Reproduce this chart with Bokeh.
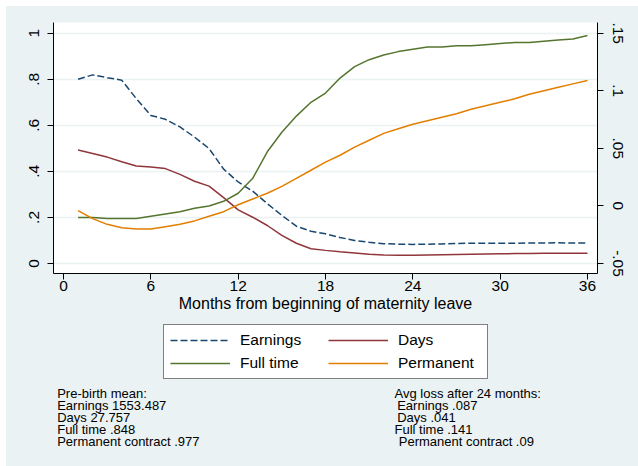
from bokeh.plotting import figure
from bokeh.layouts import column
from bokeh.models import Range1d, LinearAxis, FixedTicker, Legend, LegendItem, Label
from bokeh.embed import file_html
from bokeh.resources import INLINE

# ---------------- data ----------------
months = list(range(1, 37))
earnings = [0.800, 0.819, 0.807, 0.796, 0.716, 0.643, 0.626, 0.593, 0.549, 0.499,
            0.410, 0.354, 0.314, 0.260, 0.209, 0.162, 0.140, 0.129, 0.113, 0.100,
            0.092, 0.086, 0.084, 0.083, 0.084, 0.085, 0.087, 0.088, 0.088, 0.088,
            0.088, 0.089, 0.089, 0.090, 0.089, 0.089]
days = [0.493, 0.478, 0.462, 0.442, 0.423, 0.419, 0.412, 0.387, 0.357, 0.336,
        0.286, 0.233, 0.201, 0.165, 0.122, 0.088, 0.064, 0.057, 0.051, 0.046,
        0.040, 0.037, 0.036, 0.036, 0.037, 0.038, 0.039, 0.040, 0.041, 0.042,
        0.043, 0.043, 0.044, 0.044, 0.045, 0.045]
# right-axis series
full_time = [-0.010, -0.010, -0.011, -0.011, -0.011, -0.009, -0.007, -0.005, -0.002, 0.000,
             0.004, 0.011, 0.024, 0.047, 0.064, 0.078, 0.090, 0.098, 0.111, 0.121,
             0.127, 0.131, 0.134, 0.136, 0.138, 0.138, 0.139, 0.139, 0.140, 0.141,
             0.142, 0.142, 0.143, 0.144, 0.145, 0.148]
permanent = [-0.004, -0.011, -0.016, -0.019, -0.020, -0.020, -0.018, -0.016, -0.013, -0.009,
             -0.005, 0.001, 0.006, 0.011, 0.017, 0.024, 0.031, 0.038, 0.044, 0.051,
             0.057, 0.063, 0.067, 0.071, 0.074, 0.077, 0.080, 0.084, 0.087, 0.090,
             0.093, 0.097, 0.100, 0.103, 0.106, 0.109]

x_ticks = [0, 6, 12, 18, 24, 30, 36]
left_ticks = [0, 0.2, 0.4, 0.6, 0.8, 1]
left_tick_labels = ["0", ".2", ".4", ".6", ".8", "1"]
right_ticks = [-0.05, 0, 0.05, 0.1, 0.15]
right_tick_labels = ["-.05", "0", ".05", ".1", ".15"]
legend_labels = ["Earnings", "Days", "Full time", "Permanent"]
x_title = "Months from beginning of maternity leave"
note_left = ["Pre-birth mean:", "Earnings 1553.487", "Days 27.757",
             "Full time .848", "Permanent contract .977"]
note_right = ["Avg loss after 24 months:", "Earnings .087", "Days .041",
              "Full time .141", "Permanent contract .09"]

# ---------------- style ----------------
FONT = "Liberation Sans"
BG = "#EAF2F3"
C_NAVY = "#1A476F"
C_MAROON = "#90353B"
C_GREEN = "#55752F"
C_ORANGE = "#E37E00"
colors = [C_NAVY, C_MAROON, C_GREEN, C_ORANGE]
dashes = ["7 3", "solid", "solid", "solid"]
series = [earnings, days, full_time, permanent]

W = 632
H1 = 316
H2 = 144

p = figure(width=W, height=H1, output_backend="svg", toolbar_location=None,
           x_range=Range1d(-0.688, 36.688), y_range=Range1d(-0.0434, 1.0464),
           min_border_left=47, min_border_right=41, min_border_top=16,
           min_border_bottom=49)
p.extra_y_ranges = {"right": Range1d(-0.05 + 0.2 * -0.0434, -0.05 + 0.2 * 1.0464)}

p.border_fill_color = BG
p.background_fill_color = "white"
p.outline_line_color = None

p.xgrid.visible = False
p.ygrid.ticker = FixedTicker(ticks=left_ticks)
p.ygrid.grid_line_color = BG
p.ygrid.grid_line_width = 1.3


def style_axis(ax):
    ax.axis_line_color = "black"
    ax.axis_line_width = 1
    ax.major_tick_line_color = "black"
    ax.major_tick_in = 0
    ax.major_tick_out = 6
    ax.minor_tick_line_color = None
    ax.major_label_text_font = FONT
    ax.major_label_text_font_size = "15.5px"
    ax.major_label_text_color = "black"


xa = p.xaxis[0]
style_axis(xa)
xa.ticker = FixedTicker(ticks=x_ticks)
xa.major_label_standoff = 1
xa.axis_label = x_title
xa.axis_label_text_font = FONT
xa.axis_label_text_font_size = "16px"
xa.axis_label_text_font_style = "normal"
xa.axis_label_text_color = "black"
xa.axis_label_standoff = 1

ya = p.yaxis[0]
style_axis(ya)
ya.ticker = FixedTicker(ticks=left_ticks)
ya.major_label_overrides = {t: s for t, s in zip(left_ticks, left_tick_labels)}
ya.major_label_orientation = "vertical"
ya.major_label_standoff = 8

ra = LinearAxis(y_range_name="right")
style_axis(ra)
ra.ticker = FixedTicker(ticks=right_ticks)
ra.major_label_overrides = {t: s for t, s in zip(right_ticks, right_tick_labels)}
ra.major_label_orientation = "vertical"
ra.major_label_standoff = 9
p.add_layout(ra, "right")

p.line(months, earnings, line_color=C_NAVY, line_width=1.5, line_dash="7 3")
p.line(months, days, line_color=C_MAROON, line_width=1.5)
p.line(months, full_time, line_color=C_GREEN, line_width=1.5, y_range_name="right")
p.line(months, permanent, line_color=C_ORANGE, line_width=1.5, y_range_name="right")

# ---------------- lower panel: legend + notes ----------------
# frame of this panel is aligned with the main frame (image x 53..597),
# so its data units are image pixels; y runs downward from the panel top.
p2 = figure(width=W, height=H2, output_backend="svg", toolbar_location=None,
            x_range=Range1d(53, 597), y_range=Range1d(H2, 0),
            x_axis_location=None, y_axis_location=None,
            min_border=0, min_border_left=47, min_border_right=41,
            min_border_top=0, min_border_bottom=0)
p2.border_fill_color = BG
p2.background_fill_color = BG
p2.outline_line_color = None
p2.grid.visible = False

keys = []
for lab, c, d, s in zip(legend_labels, colors, dashes, series):
    # key renderers: series drawn at x = month (outside this panel's frame, clipped)
    r = p2.line(x=months, y=s, line_color=c, line_width=1.5, line_dash=d)
    keys.append(LegendItem(label=lab, renderers=[r]))

legend = Legend(items=keys, location=(110, 87), orientation="horizontal", ncols=2,
                glyph_width=60, glyph_height=18, label_height=18, label_width=83,
                label_standoff=10, spacing=5, padding=6, margin=0,
                label_text_font=FONT, label_text_font_size="15.5px",
                label_text_color="black",
                border_line_color="black", border_line_width=1,
                background_fill_color="white", background_fill_alpha=1)
p2.add_layout(legend, "center")

left_x = [56.7, 56.7, 56.7, 56.7, 56.7]
right_x = [394.0, 396.7, 396.7, 394.0, 398.3]
for i, (a, b) in enumerate(zip(note_left, note_right)):
    yy = 70.5 + 12.1 * i
    p2.add_layout(Label(x=left_x[i], y=yy, text=a,
                        text_font=FONT, text_font_size="13px", text_color="black",
                        text_baseline="alphabetic"))
    p2.add_layout(Label(x=right_x[i], y=yy, text=b,
                        text_font=FONT, text_font_size="13px", text_color="black",
                        text_baseline="alphabetic"))

layout = column(p, p2, spacing=0, margin=(6, 0, 0, 6),
                styles={"background-color": BG})
open("out.html", "w").write(file_html(layout, INLINE))
